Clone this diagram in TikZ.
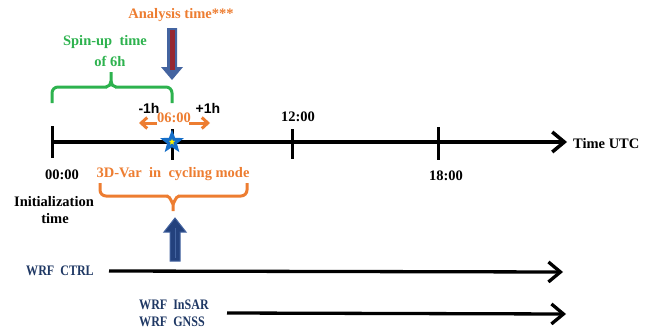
\documentclass[tikz,border=0pt]{standalone}
\usepackage{fontspec}
\setmainfont{Liberation Serif}
\newfontfamily\wrffont[FakeStretch=0.83]{Liberation Serif}
\newfontfamily\sansb{Liberation Sans}
\usetikzlibrary{arrows.meta,shapes.geometric}
\definecolor{cgreen}{RGB}{45,178,78}
\definecolor{corange}{RGB}{237,125,49}
\definecolor{cnavy}{RGB}{31,56,100}
\definecolor{cstar}{RGB}{20,110,200}
\definecolor{cablue}{RGB}{68,100,160}
\definecolor{cared}{RGB}{150,40,50}
\definecolor{cdblue}{RGB}{35,65,125}
\tikzset{
  lbl/.style={inner sep=0pt, font=\fontsize{14.5}{16}\selectfont\bfseries},
  wrf/.style={inner sep=0pt, text=cnavy, align=left, font=\fontsize{14.5}{17}\selectfont\wrffont\bfseries},
  tick/.style={line width=3pt},
  timeline/.style={line width=3.8pt, -{Straight Barb[length=12pt,width=20pt,line width=3.5pt]}},
  runline/.style={line width=3.3pt, -{Straight Barb[length=12pt,width=20pt,line width=3.3pt]}},
  winarrow/.style={corange, line width=3pt, -{Straight Barb[length=6pt,width=11pt,line width=3pt]}},
  gbrace/.style={cgreen, line width=3pt},
  obrace/.style={corange, line width=3pt},
}
\begin{document}
\begin{tikzpicture}[x=1pt,y=-1pt]
\useasboundingbox (0,0) rectangle (651,332);

% timeline
\coordinate (t0) at (52,142);
\coordinate (tend) at (567,142);
\draw[timeline] (t0) -- (tend);
\draw[tick] (52,126) -- (52,158);
\draw[tick] (172,129) -- (172,160);
\draw[tick] (292,129) -- (292,159);
\draw[tick] (438,127) -- (438,160);

% star
\coordinate (sc) at (172,142);
\fill[cstar] ([shift={(-90:12.5)}]sc)
  \foreach \a in {-54,-18,18,54,90,126,162,198,234} {
    -- ([shift={(\a:{mod(\a+90,72)==0 ? 12.5 : 5.2})}]sc)
  } -- cycle;
\fill[yellow] ([shift={(-90:3.2)}]sc)
  \foreach \a in {-54,-18,18,54,90,126,162,198,234} {
    -- ([shift={(\a:{mod(\a+90,72)==0 ? 3.2 : 1.4})}]sc)
  } -- cycle;

% labels on timeline
\node[lbl] (l00) at (62,175) {00:00};
\node[lbl] (l12) at (298,117) {12:00};
\node[lbl] (l18) at (446,176) {18:00};
\node[lbl, anchor=west] (utc) at (573,144) {Time UTC};
\node[lbl] (init1) at (54,202) {Initialization};
\node[lbl] (init2) at (55,219) {time};

% analysis window
\node[lbl, text=corange] (l06) at (174,118) {06:00};
\node[inner sep=0pt, font=\fontsize{14}{16}\selectfont\sansb\bfseries] (m1) at (149,108) {-1h};
\node[inner sep=0pt, font=\fontsize{14}{16}\selectfont\sansb\bfseries] (p1) at (208,108) {+1h};
\coordinate (wl) at (157,123);
\coordinate (wr) at (189,123);
\draw[winarrow] (wl) -- (139,123);
\draw[winarrow] (wr) -- (210,123);

% analysis time arrow
\node[lbl, text=corange] (atime) at (181,15) {Analysis time***};
\fill[cablue] (167,28) -- (177,28) -- (177,67) -- (183,67) -- (172,80) -- (161,67) -- (167,67) -- cycle;
\fill[cared] (169.5,30) rectangle (174.5,70);

% spin-up brace
\node[lbl, text=cgreen] (spin1) at (105,42) {Spin-up\ \ time};
\node[lbl, text=cgreen] (spin2) at (110,61) {of 6h};
\draw[gbrace, rounded corners=6pt] (52,103) -- (52,87) -- (107,87);
\draw[gbrace] (106,87) to[out=0,in=-90] (111,81) -- (111,72);
\draw[gbrace] (111,81) to[out=-90,in=180] (116,87);
\draw[gbrace, rounded corners=6pt] (115,87) -- (172,87) -- (172,103);

% 3D-Var brace
\node[lbl, text=corange] (var) at (173,174) {3D-Var\ \ in\ \ cycling mode};
\draw[obrace, rounded corners=6pt] (100,183) -- (100,196) -- (168,196);
\draw[obrace] (167,196) to[out=0,in=-90] (173,203) -- (173,211);
\draw[obrace] (173,203) to[out=-90,in=180] (179,196);
\draw[obrace, rounded corners=6pt] (178,196) -- (247,196) -- (247,183);

% up arrow
\filldraw[fill=cdblue, draw=cablue, line width=1pt] (175,218) -- (186,232) -- (180,232) -- (180,261) -- (170,261) -- (170,232) -- (164,232) -- cycle;
\draw[cablue, line width=0.8pt] (175,228) -- (175,258);

% runs
\node[wrf] (ctrl) at (60,271) {WRF\ \ CTRL};
\coordinate (ctrlend) at (563,272);
\draw[runline] (109,271) -- (ctrlend);
\node[wrf] (exp) at (174,313) {WRF\ \ InSAR\\WRF\ \ GNSS};
\coordinate (expend) at (566,314);
\draw[runline] (227,313) -- (expend);
\end{tikzpicture}
\end{document}
